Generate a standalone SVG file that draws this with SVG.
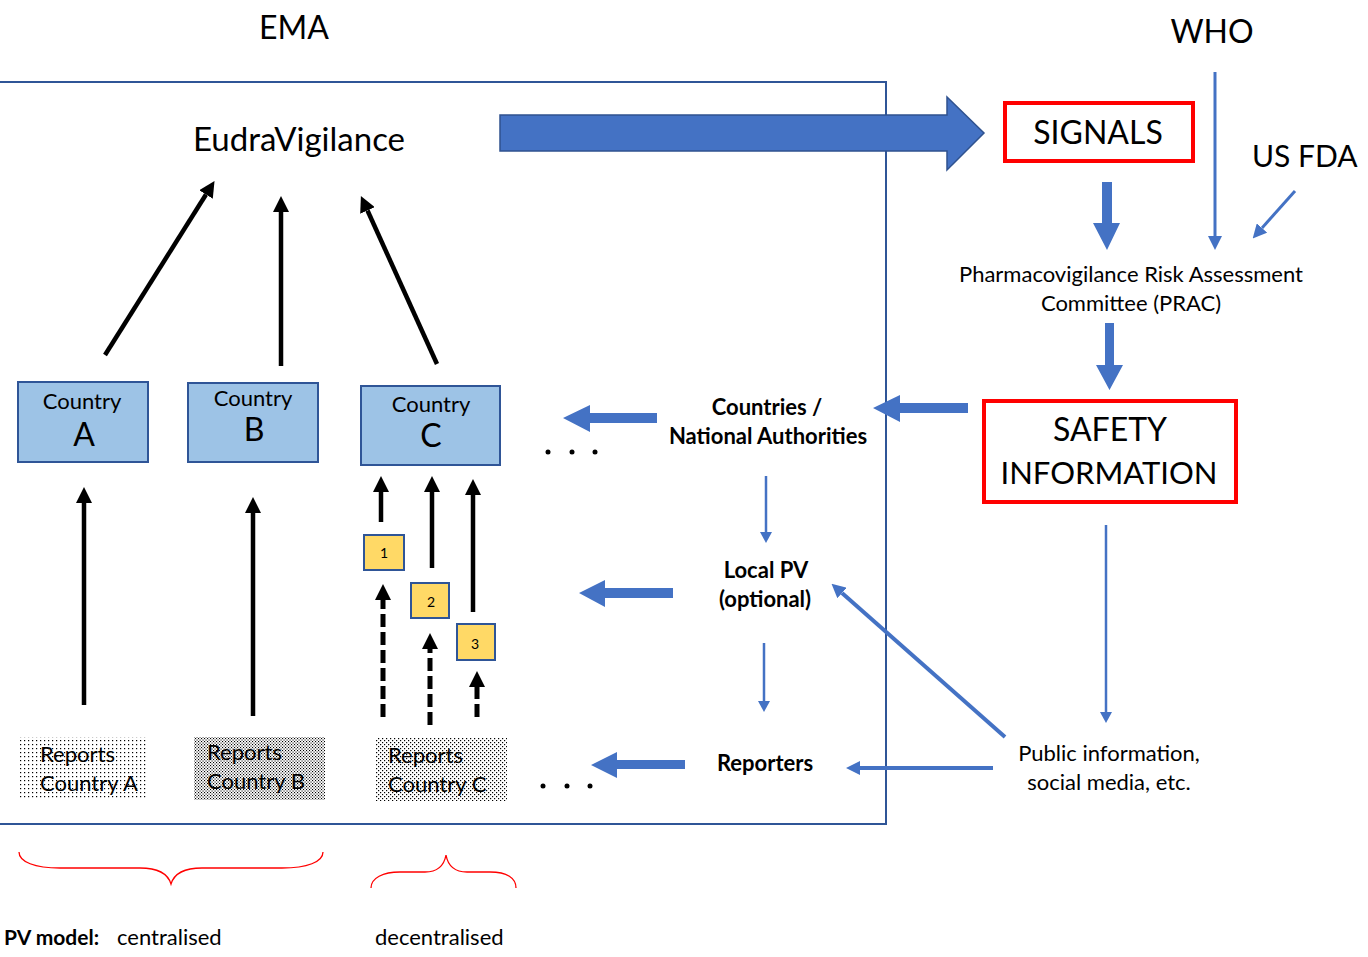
<svg xmlns="http://www.w3.org/2000/svg" width="1368" height="957" viewBox="0 0 1368 957">
<style>
text{font-family:Lato,"Liberation Sans",sans-serif;fill:#000}
.big{font-size:32px}
.med{font-size:22px}
.bold{font-size:22px;font-weight:bold}
.num{font-size:14px}
.ctry{fill:#9DC3E6;stroke:#2F5597;stroke-width:2}
.yel{fill:#FFD966;stroke:#2F5597;stroke-width:2}
.red{fill:#fff;stroke:#FF0000;stroke-width:4}
.blk{stroke:#000;stroke-width:4.5;fill:none}
.dash{stroke:#000;stroke-width:5;fill:none;stroke-dasharray:13 5}
.bthin{stroke:#4472C4;stroke-width:2.5;fill:none}
.bmed{stroke:#4472C4;stroke-width:4;fill:none}
.block{fill:#4472C4}
.brace{fill:none;stroke:#FF0000;stroke-width:1.3}
</style>
<defs>
<marker id="hk" markerUnits="userSpaceOnUse" markerWidth="16" markerHeight="16" refX="0" refY="8" orient="auto" viewBox="0 0 16 16"><path d="M0,0 L16,8 L0,16 Z" fill="#000"/></marker>
<marker id="hb" markerUnits="userSpaceOnUse" markerWidth="14" markerHeight="14" refX="0" refY="7" orient="auto" viewBox="0 0 14 14"><path d="M0,0 L14,7 L0,14 Z" fill="#4472C4"/></marker>
<marker id="hbs" markerUnits="userSpaceOnUse" markerWidth="11" markerHeight="12" refX="0" refY="6" orient="auto" viewBox="0 0 11 12"><path d="M0,0 L11,6 L0,12 Z" fill="#4472C4"/></marker>
<pattern id="pA" width="4" height="4" patternUnits="userSpaceOnUse"><rect x="0" y="0" width="1.2" height="1.2" fill="#000"/></pattern>
<pattern id="pB" width="3" height="3" patternUnits="userSpaceOnUse"><rect x="0" y="0" width="1.1" height="1.1" fill="#000"/><rect x="1.5" y="1.5" width="1.1" height="1.1" fill="#000"/></pattern>
<pattern id="pC" width="4" height="4" patternUnits="userSpaceOnUse"><rect x="0" y="0" width="1.2" height="1.2" fill="#000"/><rect x="2" y="2" width="1.2" height="1.2" fill="#000"/></pattern>
</defs>

<rect id="ema-frame" x="-5" y="82" width="891" height="742" fill="none" stroke="#2F5597" stroke-width="2"/>
<text class="big" x="294" y="39" text-anchor="middle">EMA</text>
<text class="big" x="1212" y="43" text-anchor="middle">WHO</text>
<text class="big" x="1252" y="167" style="font-size:30px">US FDA</text>

<g id="connectors">
<polygon points="500,115 947,115 947,97 984,133 947,170 947,151 500,151" fill="#4472C4" stroke="#2F528F" stroke-width="1.5"/>
<line class="blk" x1="105" y1="355" x2="206" y2="194.5" marker-end="url(#hk)"/>
<line class="blk" x1="281" y1="366" x2="281" y2="212" marker-end="url(#hk)"/>
<line class="blk" x1="437" y1="364" x2="367.5" y2="210.5" marker-end="url(#hk)"/>
<line class="blk" x1="84" y1="705" x2="84" y2="503" marker-end="url(#hk)"/>
<line class="blk" x1="253" y1="716" x2="253" y2="513" marker-end="url(#hk)"/>
<line class="blk" x1="381" y1="522" x2="381" y2="492" marker-end="url(#hk)"/>
<line class="blk" x1="432" y1="568" x2="432" y2="492" marker-end="url(#hk)"/>
<line class="blk" x1="473" y1="612" x2="473" y2="495" marker-end="url(#hk)"/>
<line class="dash" x1="383" y1="717" x2="383" y2="600" marker-end="url(#hk)"/>
<line class="dash" x1="430" y1="725" x2="430" y2="649" marker-end="url(#hk)"/>
<line class="dash" x1="477" y1="717" x2="477" y2="687" marker-end="url(#hk)"/>
<polygon class="block" points="657,413 590,413 590,405 563,418 590,432 590,423 657,423"/>
<polygon class="block" points="968,403 900,403 900,395 873,408 900,422 900,413 968,413"/>
<polygon class="block" points="673,588 605,588 605,580 579,593 605,607 605,598 673,598"/>
<polygon class="block" points="685,760 617,760 617,752 591,765 617,778 617,769 685,769"/>
<polygon class="block" points="1102,182 1112,182 1112,223 1120,223 1107,250 1093,223 1102,223"/>
<polygon class="block" points="1105,323 1114,323 1114,365 1123,365 1109.5,390 1096,365 1105,365"/>
<line class="bthin" x1="1215" y1="72" x2="1215" y2="236" marker-end="url(#hb)" style="stroke-width:3"/>
<line class="bthin" x1="1295" y1="191" x2="1262" y2="228" marker-end="url(#hb)" style="stroke-width:3"/>
<line class="bthin" x1="766" y1="476" x2="766" y2="532" marker-end="url(#hbs)"/>
<line class="bthin" x1="764" y1="643" x2="764" y2="701" marker-end="url(#hbs)"/>
<line class="bthin" x1="1106" y1="525" x2="1106" y2="712" marker-end="url(#hbs)"/>
<line class="bmed" x1="1005" y1="737" x2="842" y2="593" marker-end="url(#hb)"/>
<line class="bmed" x1="993" y1="768" x2="860" y2="768" marker-end="url(#hb)"/>
</g>

<g id="eudravigilance"><text class="big" x="299" y="151" text-anchor="middle" style="font-size:33px">EudraVigilance</text></g>

<g id="signals"><rect class="red" x="1005" y="103" width="188" height="58"/><text class="big" x="1098" y="144" text-anchor="middle">SIGNALS</text></g>

<g id="prac"><text class="med" x="1131" y="282" text-anchor="middle">Pharmacovigilance Risk Assessment</text><text class="med" x="1131" y="311" text-anchor="middle">Committee (PRAC)</text></g>

<g id="safety"><rect class="red" x="984" y="401" width="252" height="101"/><text class="big" x="1110" y="441" text-anchor="middle">SAFETY</text><text class="big" x="1109" y="484" text-anchor="middle" style="font-size:31px">INFORMATION</text></g>

<g id="authorities"><text class="bold" x="767" y="415" text-anchor="middle">Countries /</text><text class="bold" x="768" y="444" text-anchor="middle">National Authorities</text></g>
<g id="localpv"><text class="bold" x="766" y="578" text-anchor="middle">Local PV</text><text class="bold" x="765" y="607" text-anchor="middle">(optional)</text></g>
<g id="reporters"><text class="bold" x="765" y="771" text-anchor="middle">Reporters</text></g>
<g id="public"><text class="med" x="1109" y="761" text-anchor="middle">Public information,</text><text class="med" x="1109" y="790" text-anchor="middle">social media, etc.</text></g>

<g id="country-a"><rect class="ctry" x="18" y="382" width="130" height="80"/><text class="med" x="82" y="409" text-anchor="middle">Country</text><text class="big" x="84" y="446" text-anchor="middle">A</text></g>
<g id="country-b"><rect class="ctry" x="188" y="383" width="130" height="79"/><text class="med" x="253" y="406" text-anchor="middle">Country</text><text class="big" x="254" y="441" text-anchor="middle">B</text></g>
<g id="country-c"><rect class="ctry" x="361" y="386" width="139" height="79"/><text class="med" x="431" y="412" text-anchor="middle">Country</text><text class="big" x="431" y="447" text-anchor="middle">C</text></g>

<g id="dots-top"><circle cx="548" cy="452" r="2.5"/><circle cx="572" cy="452" r="2.5"/><circle cx="595" cy="452" r="2.5"/></g>
<g id="dots-bottom"><circle cx="543" cy="786" r="2.5"/><circle cx="567" cy="786" r="2.5"/><circle cx="590" cy="786" r="2.5"/></g>

<g id="step-1"><rect class="yel" x="364" y="535" width="40" height="35"/><text class="num" x="384" y="558" text-anchor="middle">1</text></g>
<g id="step-2"><rect class="yel" x="411" y="583" width="38" height="35"/><text class="num" x="431" y="607" text-anchor="middle">2</text></g>
<g id="step-3"><rect class="yel" x="457" y="624" width="38" height="36"/><text class="num" x="475" y="649" text-anchor="middle">3</text></g>

<g id="reports-a"><rect x="18" y="737" width="129" height="63" fill="url(#pA)"/><text class="med" x="40" y="762">Reports</text><text class="med" x="40" y="791">Country A</text></g>
<g id="reports-b"><rect x="194" y="737" width="131" height="63" fill="url(#pB)"/><text class="med" x="207" y="760">Reports</text><text class="med" x="207" y="789">Country B</text></g>
<g id="reports-c"><rect x="376" y="738" width="131" height="63" fill="url(#pC)"/><text class="med" x="388" y="763">Reports</text><text class="med" x="388" y="792">Country C</text></g>

<g id="braces">
<path class="brace" d="M19,852 C19,862 35,868 60,868 L140,868 C158,868 168,874 171,884 C174,874 184,868 202,868 L282,868 C307,868 323,862 323,852"/>
<path class="brace" d="M371,888 C371,878 383,872 400,872 L425,872 C437,872 444,866 446,855 C448,866 455,872 467,872 L490,872 C507,872 516,878 516,888"/>
</g>
<g id="legend"><text x="4" y="945" style="font-size:21px;font-weight:bold">PV model:</text><text class="med" x="117" y="945">centralised</text><text class="med" x="375" y="945">decentralised</text></g>
</svg>
